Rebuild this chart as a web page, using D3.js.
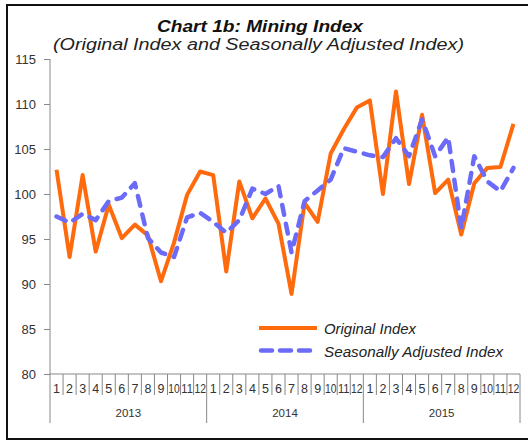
<!DOCTYPE html>
<html>
<head>
<meta charset="utf-8">
<script src="https://cdn.jsdelivr.net/npm/d3@7"></script>
<style>
  body { margin: 0; background: #fff; }
  svg { display: block; font-family: Arial, "Liberation Sans", sans-serif; }
</style>
</head>
<body>
<svg id="chart" width="528" height="442"></svg>
<script>
// data
var years = ["2013", "2014", "2015"];
var months = ["1","2","3","4","5","6","7","8","9","10","11","12"];
var originalIndex = [
  102.7, 93.0, 102.1, 93.6, 98.8, 95.1, 96.6, 95.4, 90.3, 94.6, 99.9, 102.5,
  102.1, 91.4, 101.4, 97.3, 99.5, 96.7, 88.9, 99.0, 96.9, 104.5, 107.2, 109.6,
  110.4, 100.0, 111.4, 101.1, 108.8, 100.1, 101.6, 95.5, 101.2, 102.9, 103.0, 107.8
];
var seasonalIndex = [
  97.5, 96.8, 97.8, 97.1, 99.2, 99.6, 101.2, 95.1, 93.5, 93.0, 97.4, 97.9,
  96.9, 95.7, 97.1, 100.6, 100.0, 100.9, 93.5, 99.2, 100.4, 101.6, 105.1, 104.7,
  104.3, 104.1, 106.2, 104.2, 108.3, 104.2, 106.3, 96.2, 104.2, 101.4, 100.3, 102.9
];
var yTicks = [80, 85, 90, 95, 100, 105, 110, 115];
var seriesNames = ["Original Index", "Seasonally Adjusted Index"];

// flat list of periods (year, month)
var periods = [];
years.forEach(function(yr){
  months.forEach(function(m){ periods.push({year: yr, month: m}); });
});

var svg = d3.select("#chart");
var plotLeft = 50, plotRight = 520, plotTop = 59, plotBottom = 374;

var x = d3.scaleBand().domain(d3.range(periods.length)).range([plotLeft, plotRight]);
var y = d3.scaleLinear().domain([80, 115]).range([plotBottom, plotTop]);

// outer frame (right edge runs off the picture)
svg.append("rect")
  .attr("x", 7).attr("y", 5)
  .attr("width", 540).attr("height", 434)
  .attr("fill", "none").attr("stroke", "#111").attr("stroke-width", 2);

// titles
svg.append("text")
  .attr("x", 157).attr("y", 32)
  .attr("font-size", "17px").attr("font-weight", "bold").attr("font-style", "italic")
  .attr("textLength", 206).attr("lengthAdjust", "spacingAndGlyphs")
  .attr("fill", "#111")
  .text("Chart 1b: Mining Index");
svg.append("text")
  .attr("x", 53).attr("y", 50)
  .attr("font-size", "16px").attr("font-style", "italic")
  .attr("textLength", 411).attr("lengthAdjust", "spacingAndGlyphs")
  .attr("fill", "#222")
  .text("(Original Index and Seasonally Adjusted Index)");

// y axis
var yAxis = svg.append("g")
  .attr("transform", `translate(${plotLeft},0)`)
  .call(d3.axisLeft(y).tickValues(yTicks).tickSize(6).tickPadding(8));
yAxis.select(".domain").remove();
yAxis.selectAll(".tick line").attr("stroke", "#888");
yAxis.selectAll(".tick text")
  .attr("font-size", "13px").attr("fill", "#333")
  .attr("font-family", "Arial, 'Liberation Sans', sans-serif");
// vertical axis line runs down through the category area
svg.append("line")
  .attr("x1", plotLeft).attr("x2", plotLeft).attr("y1", plotTop).attr("y2", 423)
  .attr("stroke", "#888");

// x axis: months then years
var xg = svg.append("g").attr("class", "xAxis");
xg.append("line")
  .attr("x1", plotLeft).attr("x2", plotRight).attr("y1", plotBottom).attr("y2", plotBottom)
  .attr("stroke", "#888");

xg.selectAll(".mTick")
  .data(d3.range(1, periods.length + 1))
  .enter().append("line")
  .attr("class", "mTick")
  .attr("x1", function(i){ return i === periods.length ? plotRight : x(i); })
  .attr("x2", function(i){ return i === periods.length ? plotRight : x(i); })
  .attr("y1", plotBottom)
  .attr("y2", function(i){ return i % 12 === 0 ? 423 : 395; })
  .attr("stroke", "#888");

xg.selectAll(".mLabel")
  .data(periods)
  .enter().append("text")
  .attr("class", "mLabel")
  .attr("x", function(d, i){ return x(i) + x.bandwidth() / 2; })
  .attr("y", 393)
  .attr("text-anchor", "middle")
  .attr("font-size", "12.5px").attr("fill", "#333")
  .each(function(d){
    if (d.month.length > 1) d3.select(this).attr("textLength", 11.5).attr("lengthAdjust", "spacingAndGlyphs");
  })
  .text(function(d){ return d.month; });

xg.selectAll(".yLabel")
  .data(years)
  .enter().append("text")
  .attr("class", "yLabel")
  .attr("x", function(d, i){ return (x(i * 12) + x(i * 12 + 11) + x.bandwidth()) / 2; })
  .attr("y", 417)
  .attr("text-anchor", "middle")
  .attr("font-size", "11.5px").attr("fill", "#333")
  .text(function(d){ return d; });

// lines
var lineFn = d3.line()
  .x(function(d, i){ return x(i) + x.bandwidth() / 2; })
  .y(function(d){ return y(d); });

svg.append("path")
  .datum(originalIndex)
  .attr("d", lineFn)
  .attr("fill", "none").attr("stroke", "#ff6a0d")
  .attr("stroke-width", 4).attr("stroke-linejoin", "round");

svg.append("path")
  .datum(seasonalIndex)
  .attr("d", lineFn)
  .attr("fill", "none").attr("stroke", "#6b6bf7")
  .attr("stroke-width", 4.5).attr("stroke-linecap", "round")
  .attr("stroke-linejoin", "round").attr("stroke-dasharray", "10,9");

// legend
var legend = svg.append("g").attr("class", "legend");
var legendStyles = [
  {color: "#ff6a0d", width: 4, dash: null, cap: "butt", textLen: 92},
  {color: "#6b6bf7", width: 4.5, dash: "11,8", cap: "round", textLen: 179}
];
seriesNames.forEach(function(name, i){
  var ly = 328 + i * 22.5;
  legend.append("line")
    .attr("x1", i === 0 ? 259 : 261).attr("x2", i === 0 ? 317 : 313)
    .attr("y1", ly).attr("y2", ly)
    .attr("stroke", legendStyles[i].color)
    .attr("stroke-width", legendStyles[i].width)
    .attr("stroke-linecap", legendStyles[i].cap)
    .attr("stroke-dasharray", legendStyles[i].dash);
  legend.append("text")
    .attr("x", 324).attr("y", ly + 6)
    .attr("font-size", "14px").attr("font-style", "italic").attr("fill", "#222")
    .attr("textLength", legendStyles[i].textLen).attr("lengthAdjust", "spacingAndGlyphs")
    .text(name);
});
</script>
</body>
</html>
